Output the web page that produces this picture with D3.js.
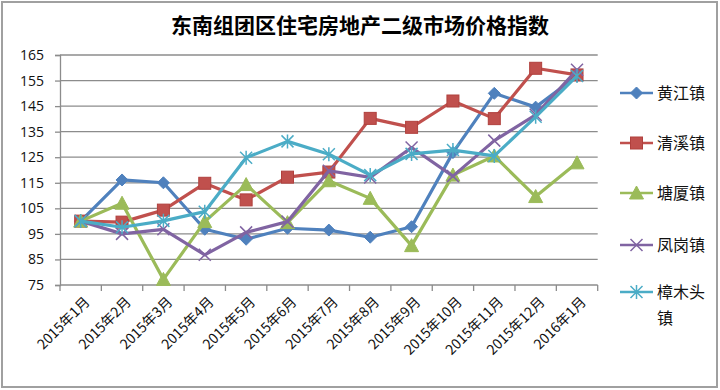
<!DOCTYPE html>
<html><head><meta charset="utf-8">
<script src="https://cdn.jsdelivr.net/npm/d3@7"></script>
<style>html,body{margin:0;padding:0;background:#fff}</style>
</head><body>
<svg id="c" width="720" height="390"></svg>
<script>
const title = "东南组团区住宅房地产二级市场价格指数";
const categories = ["2015年1月","2015年2月","2015年3月","2015年4月","2015年5月","2015年6月","2015年7月","2015年8月","2015年9月","2015年10月","2015年11月","2015年12月","2016年1月"];
const seriesNames = ["黄江镇","清溪镇","塘厦镇","凤岗镇","樟木头镇"];
const huangjiang = [100,116.1,115,96.8,92.9,97.2,96.5,93.7,97.8,126.8,150,144.6,156.8];
const qingxi     = [100,99.6,104.3,114.8,108.3,117.2,119.2,140.2,136.7,147,140.1,159.8,157.2];
const tangxia    = [100,107,77.2,99.8,114.3,99.4,115.8,108.9,90.4,118,125.5,109.6,122.8];
const fenggang   = [100,95,96.8,86.8,95.6,99.8,119.7,117.1,128.8,117.6,131.5,141.6,159.2];
const zhangmutou = [100,97.6,100.1,103.7,124.8,131.2,126.2,118,126.3,127.8,125.5,140.8,156.8];
const seriesValues = [huangjiang,qingxi,tangxia,fenggang,zhangmutou];
const colors = ["#4F81BD","#C0504D","#9BBB59","#8064A2","#4BACC6"];
const yTicks = [75,85,95,105,115,125,135,145,155,165];

const svg = d3.select("#c");
const font = "'Noto Sans CJK SC', 'Noto Sans', sans-serif";

svg.append("rect").attr("x",2).attr("y",2).attr("width",715).attr("height",385)
  .attr("fill","#fff").attr("stroke","#a0a0a0").attr("stroke-width",2);

svg.append("text").attr("x",360).attr("y",33).attr("text-anchor","middle")
  .attr("font-family",font).attr("font-weight","bold").attr("font-size",21)
  .attr("fill","#000").text(title);

const L = 60, R = 597.7, T = 55, B = 285;
const x = d3.scaleBand().domain(categories).range([L,R]);
const y = d3.scaleLinear().domain([75,165]).range([B,T]);

// gridlines
svg.append("g").selectAll("line").data(yTicks.slice(1)).join("line")
  .attr("x1",L).attr("x2",R).attr("y1",d=>y(d)).attr("y2",d=>y(d))
  .attr("stroke","#8c8c8c").attr("stroke-width",1.3);

// y axis
const ya = svg.append("g").attr("transform",`translate(${L},0)`)
  .call(d3.axisLeft(y).tickValues(yTicks).tickSize(5).tickPadding(11));
ya.select(".domain").attr("stroke","#8c8c8c").attr("stroke-width",1.3);
ya.selectAll(".tick line").attr("stroke","#8c8c8c").attr("stroke-width",1.3);
ya.selectAll("text").attr("font-family","'Open Sans','DejaVu Sans',sans-serif").attr("font-size",14).attr("fill","#111");

// x axis
const xa = svg.append("g").attr("transform",`translate(0,${B})`);
xa.append("line").attr("x1",L).attr("x2",R).attr("stroke","#8c8c8c").attr("stroke-width",1.3);
const edges = categories.map(c=>x(c)).concat([R]);
xa.selectAll("line.tk").data(edges).join("line").attr("class","tk")
  .attr("x1",d=>d).attr("x2",d=>d).attr("y1",0).attr("y2",6)
  .attr("stroke","#8c8c8c").attr("stroke-width",1.3);
xa.selectAll("text").data(categories).join("text")
  .attr("transform",d=>`translate(${x(d)+x.bandwidth()/2+3},11) rotate(-45)`)
  .attr("text-anchor","end").attr("dy","0.7em")
  .attr("font-family",font).attr("font-size",14).attr("fill","#111").text(d=>d);

// lines
const line = d3.line().x((d,i)=>x(categories[i])+x.bandwidth()/2).y(d=>y(d));
const markerTypes = ["diamond","square","triangle","x","star"];
function drawMarker(g, type, cx, cy, color){
  if(type==="diamond"){
    g.append("path").attr("d",`M${cx},${cy-6}L${cx+6},${cy}L${cx},${cy+6}L${cx-6},${cy}Z`).attr("fill",color).attr("stroke",color).attr("stroke-width",1);
  } else if(type==="square"){
    g.append("rect").attr("x",cx-6).attr("y",cy-6).attr("width",12).attr("height",12).attr("fill",color).attr("stroke","#b0403d").attr("stroke-width",1);
  } else if(type==="triangle"){
    g.append("path").attr("d",`M${cx},${cy-7}L${cx+7},${cy+6}L${cx-7},${cy+6}Z`).attr("fill",color).attr("stroke",color).attr("stroke-width",1);
  } else if(type==="x"){
    g.append("path").attr("d",`M${cx-6},${cy-6}L${cx+6},${cy+6}M${cx-6},${cy+6}L${cx+6},${cy-6}`).attr("stroke",color).attr("stroke-width",1.5).attr("fill","none");
  } else {
    g.append("path").attr("d",`M${cx-6},${cy-6}L${cx+6},${cy+6}M${cx-6},${cy+6}L${cx+6},${cy-6}M${cx},${cy-7}L${cx},${cy+7}`).attr("stroke",color).attr("stroke-width",1.5).attr("fill","none");
  }
}
seriesValues.forEach((vals,si)=>{
  const g = svg.append("g");
  g.append("path").datum(vals).attr("d",line).attr("fill","none")
    .attr("stroke",colors[si]).attr("stroke-width",3.2).attr("stroke-linejoin","round");
  vals.forEach((v,i)=>drawMarker(g, markerTypes[si], x(categories[i])+x.bandwidth()/2, y(v), colors[si]));
});

// legend
const legY = [93,143,193,245,292];
seriesNames.forEach((n,i)=>{
  const g = svg.append("g");
  g.append("line").attr("x1",620).attr("x2",653).attr("y1",legY[i]).attr("y2",legY[i])
    .attr("stroke",colors[i]).attr("stroke-width",2.5);
  drawMarker(g, markerTypes[i], 636.5, legY[i], colors[i]);
  const t = g.append("text").attr("x",657).attr("y",legY[i]+6)
    .attr("font-family",font).attr("font-size",16).attr("fill","#111");
  if(n.length>3){
    t.append("tspan").attr("x",657).text(n.slice(0,3));
    t.append("tspan").attr("x",657).attr("dy",26).text(n.slice(3));
  } else t.text(n);
});
</script>
</body></html>
